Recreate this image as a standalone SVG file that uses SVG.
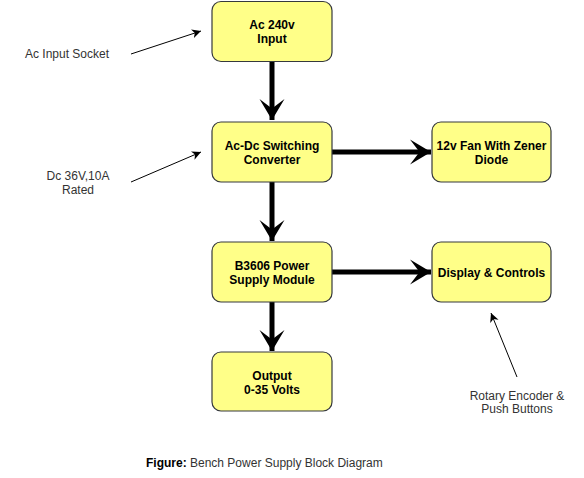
<svg xmlns="http://www.w3.org/2000/svg" width="584" height="478" viewBox="0 0 584 478">
<style>
.box{fill:#ffff88;stroke:#36393d;stroke-width:1.2}
.bt{font-family:"Liberation Sans",Arial,sans-serif;font-size:12px;font-weight:bold;fill:#000;text-anchor:middle}
.at{font-family:"Liberation Sans",Arial,sans-serif;font-size:12px;fill:#333;text-anchor:middle}
.thick{stroke:#000;stroke-width:5;fill:none}
.thin{stroke:#000;stroke-width:1;fill:none}
</style>
<defs>
<marker id="big" markerUnits="userSpaceOnUse" markerWidth="26" markerHeight="26" refX="21" refY="13" orient="auto" viewBox="0 0 26 26">
<path d="M21,13 L0,0.5 L9.5,13 L0,25.5 Z" fill="#000"/>
</marker>
<marker id="small" markerUnits="userSpaceOnUse" markerWidth="10" markerHeight="10" refX="9" refY="4.5" orient="auto" viewBox="0 0 10 9">
<path d="M9,4.5 L0,0 L2.5,4.5 L0,9 Z" fill="#000"/>
</marker>
</defs>
<rect width="584" height="478" fill="#fff"/>
<g id="connectors">
<line class="thick" x1="272" y1="62" x2="272" y2="120" marker-end="url(#big)"/>
<line class="thick" x1="272" y1="182" x2="272" y2="241" marker-end="url(#big)"/>
<line class="thick" x1="272" y1="302" x2="272" y2="351" marker-end="url(#big)"/>
<line class="thick" x1="332" y1="152" x2="431" y2="152" marker-end="url(#big)"/>
<line class="thick" x1="332" y1="272" x2="431" y2="272" marker-end="url(#big)"/>
<line class="thin" x1="131" y1="54" x2="201" y2="31" marker-end="url(#small)"/>
<line class="thin" x1="131" y1="182" x2="201" y2="152" marker-end="url(#small)"/>
<line class="thin" x1="517" y1="377" x2="491" y2="313" marker-end="url(#small)"/>
</g>
<g id="ac-input">
<rect class="box" x="212" y="1.5" width="120" height="60" rx="9"/>
<text class="bt" x="272" y="29">Ac 240v</text>
<text class="bt" x="272" y="43">Input</text>
</g>
<g id="converter">
<rect class="box" x="212" y="122" width="120" height="60" rx="9"/>
<text class="bt" x="272" y="150">Ac-Dc Switching</text>
<text class="bt" x="272" y="164">Converter</text>
</g>
<g id="module">
<rect class="box" x="212" y="242" width="120" height="60" rx="9"/>
<text class="bt" x="272" y="270">B3606 Power</text>
<text class="bt" x="272" y="284">Supply Module</text>
</g>
<g id="output">
<rect class="box" x="212" y="352" width="120" height="59" rx="9"/>
<text class="bt" x="272" y="380">Output</text>
<text class="bt" x="272" y="394">0-35 Volts</text>
</g>
<g id="fan">
<rect class="box" x="432" y="122" width="119" height="60" rx="9"/>
<text class="bt" x="491.5" y="150">12v Fan With Zener</text>
<text class="bt" x="491.5" y="164">Diode</text>
</g>
<g id="display">
<rect class="box" x="432" y="242" width="119" height="60" rx="9"/>
<text class="bt" x="491.5" y="277">Display &amp; Controls</text>
</g>
<g id="labels">
<text class="at" x="67" y="58">Ac Input Socket</text>
<text class="at" x="78" y="180">Dc 36V,10A</text>
<text class="at" x="78" y="194">Rated</text>
<text class="at" x="517" y="400">Rotary Encoder &amp;</text>
<text class="at" x="517" y="413">Push Buttons</text>
<text x="146" y="467" font-family="'Liberation Sans',Arial,sans-serif" font-size="12px" fill="#333"><tspan font-weight="bold" fill="#000">Figure:</tspan> Bench Power Supply Block Diagram</text>
</g>
</svg>
